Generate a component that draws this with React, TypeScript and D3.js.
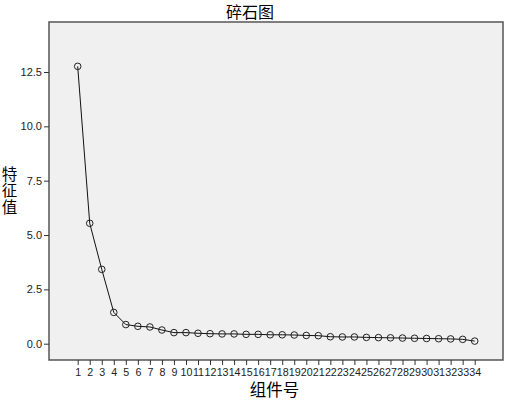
import React, { useRef, useEffect } from 'react';
import * as d3 from 'd3';

const components = d3.range(1, 35);
const eigenvalues = [
  12.76, 5.54, 3.42, 1.44, 0.88, 0.80, 0.77, 0.63, 0.51, 0.51,
  0.48, 0.46, 0.45, 0.45, 0.43, 0.43, 0.41, 0.41, 0.40, 0.38,
  0.37, 0.32, 0.31, 0.31, 0.29, 0.28, 0.27, 0.26, 0.25, 0.24,
  0.23, 0.22, 0.20, 0.12,
];
const yTicks = [0, 2.5, 5, 7.5, 10, 12.5];

const title = '碎石图';
const xLabel = '组件号';
const yLabel = '特征值';

const layout = { width: 505, height: 400, left: 49, right: 503, top: 22, bottom: 360 };

export default function App() {
  const ref = useRef<SVGSVGElement>(null);

  useEffect(() => {
    const svg = d3.select(ref.current);
    svg.selectAll('*').remove();

    const x = d3.scaleLinear().domain([1, 34]).range([77.7, 474.7]);
    const y = d3.scaleLinear().domain([0, 12.5]).range([343.7, 72]);

    svg.append('rect')
      .attr('x', layout.left)
      .attr('y', layout.top)
      .attr('width', layout.right - layout.left)
      .attr('height', layout.bottom - layout.top)
      .attr('fill', '#f0f0f0')
      .attr('stroke', '#555')
      .attr('stroke-width', 1.5);

    // y axis
    const ya = svg.append('g')
      .attr('transform', `translate(${layout.left},0)`)
      .call(d3.axisLeft(y).tickValues(yTicks).tickFormat(d3.format('.1f')).tickSize(5).tickPadding(2));
    ya.select('.domain').remove();
    ya.selectAll('line').attr('stroke', '#333');
    ya.selectAll('text').attr('font-family', 'Arial, "Liberation Sans", sans-serif').attr('font-size', 11).attr('fill', '#222');

    // x axis
    const xa = svg.append('g')
      .attr('transform', `translate(0,${layout.bottom})`)
      .call(d3.axisBottom(x).tickValues(components).tickFormat(d3.format('d')).tickSize(5).tickPadding(3));
    xa.select('.domain').remove();
    xa.selectAll('line').attr('stroke', '#333');
    xa.selectAll('text').attr('font-family', 'Arial, "Liberation Sans", sans-serif').attr('font-size', 10.7).attr('fill', '#222');

    const line = d3.line<number>()
      .x((d, i) => x(components[i]))
      .y(d => y(d));

    svg.append('path')
      .datum(eigenvalues)
      .attr('d', line)
      .attr('fill', 'none')
      .attr('stroke', '#111')
      .attr('stroke-width', 1);

    svg.selectAll('.pt')
      .data(eigenvalues)
      .join('circle')
      .attr('class', 'pt')
      .attr('cx', (d, i) => x(components[i]))
      .attr('cy', d => y(d))
      .attr('r', 3.3)
      .attr('fill', 'none')
      .attr('stroke', '#222')
      .attr('stroke-width', 1);

    const cjk = '"Noto Sans CJK SC", sans-serif';
    svg.append('text')
      .attr('x', 250)
      .attr('y', 18)
      .attr('text-anchor', 'middle')
      .attr('font-family', cjk)
      .attr('font-size', 16)
      .text(title);

    svg.append('text')
      .attr('x', 274.5)
      .attr('y', 396)
      .attr('text-anchor', 'middle')
      .attr('font-family', cjk)
      .attr('font-size', 16.5)
      .text(xLabel);

    // stacked vertical y label
    svg.append('text')
      .attr('x', 9.5)
      .attr('y', 166)
      .attr('font-family', cjk)
      .attr('font-size', 15.5)
      .style('writing-mode', 'vertical-rl')
      .style('letter-spacing', '1px')
      .text(yLabel);
  }, []);

  return (
    <svg
      ref={ref}
      width={layout.width}
      height={layout.height}
      style={{ position: 'absolute', left: 0, top: 0, background: '#fff' }}
    />
  );
}
